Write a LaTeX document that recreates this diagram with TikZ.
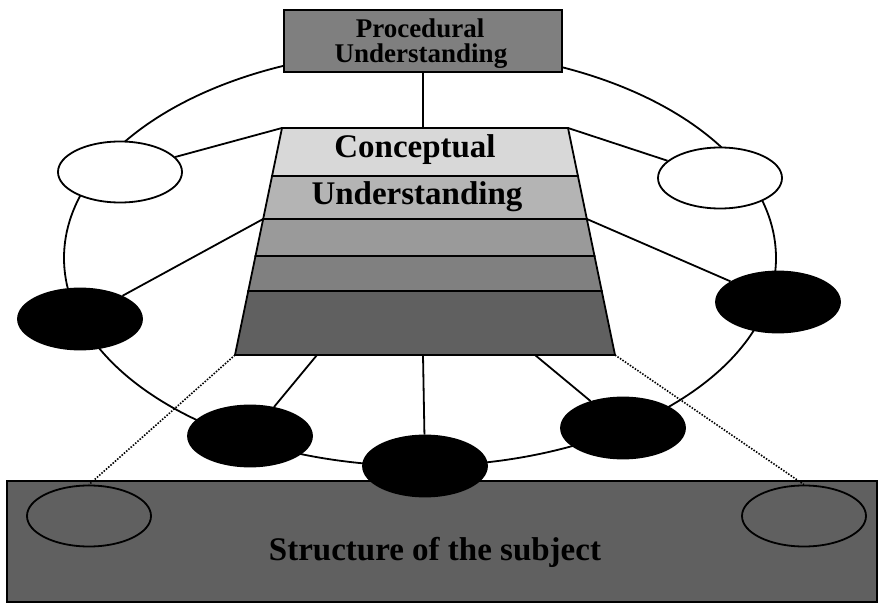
\documentclass[tikz,border=0pt]{standalone}
\usepackage{fontspec}
\setmainfont{Liberation Serif}
\usetikzlibrary{shapes.geometric,calc}
\definecolor{procgray}{HTML}{7F7F7F}
\definecolor{bandA}{HTML}{D8D8D8}
\definecolor{bandB}{HTML}{B4B4B4}
\definecolor{bandC}{HTML}{9A9A9A}
\definecolor{bandD}{HTML}{808080}
\definecolor{bandE}{HTML}{606060}
\definecolor{basegray}{HTML}{606060}
\begin{document}
\begin{tikzpicture}[x=1pt,y=-1pt,line width=1.8pt,
  oval/.style={ellipse,draw,minimum width=124pt,minimum height=61pt,inner sep=0pt},
  whiteoval/.style={oval,fill=white},
  blackoval/.style={oval,fill=black},
  openoval/.style={oval},
  link/.style={draw},
  dotlink/.style={draw,line width=1.6pt,dash pattern=on 1.5pt off 1.5pt},
  bigtext/.style={font=\fontsize{33}{33}\selectfont\bfseries,anchor=base,inner sep=0pt},
  proctext/.style={font=\fontsize{27}{27}\selectfont\bfseries,anchor=base,inner sep=0pt}]
\useasboundingbox (0,0) rectangle (879,604);

% the ring that joins the knowledge elements
\node[ellipse,draw,minimum width=712pt,minimum height=416pt,inner sep=0pt] (ring) at (420,258) {};

% trapezoid corners and attachment points
\coordinate (tTL) at (282,128);
\coordinate (tTR) at (568,128);
\coordinate (tBL) at (235,355);
\coordinate (tBR) at (615,355);
\coordinate (tTop) at (423,128);
\coordinate (lA) at ($(tTL)!0.2115!(tBL)$);
\coordinate (rA) at ($(tTR)!0.2115!(tBR)$);
\coordinate (lB) at ($(tTL)!0.4009!(tBL)$);
\coordinate (rB) at ($(tTR)!0.4009!(tBR)$);
\coordinate (lC) at ($(tTL)!0.5639!(tBL)$);
\coordinate (rC) at ($(tTR)!0.5639!(tBR)$);
\coordinate (lD) at ($(tTL)!0.7181!(tBL)$);
\coordinate (rD) at ($(tTR)!0.7181!(tBR)$);
\coordinate (bL) at (317,355);
\coordinate (bM) at (423,355);
\coordinate (bR) at (535,355);

% base of the subject
\node[draw,fill=basegray,minimum width=870pt,minimum height=121pt,inner sep=0pt] (subj) at (442,541.5) {};
\node[openoval] (hl) at (89,516) {};
\node[openoval] (hr) at (804,516) {};
\node[bigtext] (subjtext) at (435,560) {Structure of the subject};

% knowledge elements around the ring
\node[whiteoval] (wl) at (120,172) {};
\node[whiteoval] (wr) at (720,178) {};
\node[blackoval] (bl) at (80,319) {};
\node[blackoval] (br) at (778,302) {};
\node[blackoval] (bbl) at (250,436) {};
\node[blackoval] (bbc) at (425,466) {};
\node[blackoval] (bbr) at (623,428) {};

% links from the elements to the trapezoid
\path[link] (wl) -- (tTL);
\path[link] (wr) -- (tTR);
\path[link] (bl) -- (lB);
\path[link] (br) -- (rB);
\path[link] (bbl) -- (bL);
\path[link] (bbc) -- (bM);
\path[link] (bbr) -- (bR);
\path[dotlink] (tBL) -- (hl.north);
\path[dotlink] (tBR) -- (hr.north);

% layered trapezoid
\filldraw[fill=bandA] (tTL) -- (tTR) -- (rA) -- (lA) -- cycle;
\filldraw[fill=bandB] (lA) -- (rA) -- (rB) -- (lB) -- cycle;
\filldraw[fill=bandC] (lB) -- (rB) -- (rC) -- (lC) -- cycle;
\filldraw[fill=bandD] (lC) -- (rC) -- (rD) -- (lD) -- cycle;
\filldraw[fill=bandE] (lD) -- (rD) -- (tBR) -- (tBL) -- cycle;
\node[bigtext] (c1) at (415,158) {Conceptual};
\node[bigtext] (c2) at (417,205) {Understanding};

% procedural understanding box
\node[draw,fill=procgray,minimum width=278pt,minimum height=62pt,inner sep=0pt] (proc) at (423,41) {};
\path[link] (proc.south) -- (tTop);
\node[proctext] (p1) at (420,38) {Procedural};
\node[proctext] (p2) at (421,63) {Understanding};
\end{tikzpicture}
\end{document}
